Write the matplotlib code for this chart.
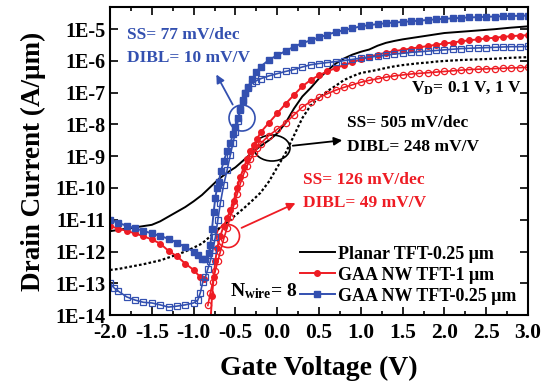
import matplotlib
matplotlib.use("Agg")
import matplotlib.pyplot as plt
from matplotlib.patches import Ellipse
from matplotlib.ticker import FixedLocator, LogLocator, NullFormatter, FuncFormatter, MultipleLocator
import numpy as np

# ---------------------------------------------------------------------------
# Data: gate voltage (V) and log10 of drain current (A/um)
# ---------------------------------------------------------------------------
# Planar TFT-0.25 um, VD = 1 V (solid) and VD = 0.1 V (dotted)
planar_v = [-2.0, -1.9, -1.8, -1.7, -1.6, -1.5, -1.4, -1.3, -1.2, -1.1, -1.0, -0.9, -0.8,
            -0.7, -0.6, -0.5, -0.4, -0.3, -0.2, -0.1, 0.0, 0.1, 0.2, 0.3, 0.4, 0.5, 0.6,
            0.7, 0.8, 0.9, 1.0, 1.1, 1.2, 1.3, 1.4, 1.5, 1.6, 1.7, 1.8, 1.9, 2.0, 2.2,
            2.4, 2.6, 2.8, 3.0]
planar_hi = [-11.36, -11.32, -11.28, -11.24, -11.20, -11.16, -11.05, -10.90, -10.75, -10.60,
             -10.42, -10.22, -9.97, -9.72, -9.52, -9.35, -9.12, -8.88, -8.68, -8.50, -8.28,
             -7.95, -7.50, -7.12, -6.85, -6.55, -6.30, -6.08, -5.92, -5.80, -5.71, -5.64,
             -5.52, -5.43, -5.37, -5.32, -5.28, -5.24, -5.20, -5.16, -5.12, -5.08, -5.04,
             -5.00, -4.95, -4.91]
planar_lo = [-12.58, -12.55, -12.50, -12.45, -12.40, -12.34, -12.28, -12.19, -12.10, -12.00,
             -11.88, -11.75, -11.52, -11.28, -11.08, -10.86, -10.64, -10.40, -10.15, -9.80,
             -9.35, -8.90, -8.35, -7.80, -7.40, -7.16, -6.95, -6.78, -6.60, -6.48, -6.38,
             -6.33, -6.28, -6.22, -6.17, -6.13, -6.10, -6.07, -6.05, -6.02, -6.00, -5.97,
             -5.95, -5.93, -5.90, -5.88]

# GAA NW TFT-1 um, VD = 1 V (filled circles); NaN marks the sign-change gap
gaa1_hi_v = [-2.0, -1.9, -1.8, -1.7, -1.6, -1.5, -1.4, -1.3, -1.2, -1.1, -1.0, -0.92, -0.88,
             -0.84, -0.80, -0.78, -0.76, -0.74, -0.72, -0.68, -0.64, -0.60, -0.56, -0.52,
             -0.48, -0.44, -0.40, -0.36, -0.32, -0.28, -0.24, -0.20, -0.1, 0.0, 0.1, 0.2,
             0.3, 0.4, 0.5, 0.6, 0.7, 0.8, 0.9, 1.0, 1.1, 1.2, 1.3, 1.4, 1.5, 1.6, 1.7,
             1.8, 1.9, 2.0, 2.1, 2.2, 2.3, 2.4, 2.5, 2.6, 2.7, 2.8, 2.9, 3.0]
gaa1_hi = [-11.20, -11.28, -11.35, -11.43, -11.52, -11.62, -11.75, -11.98, -12.15, -12.38,
           -12.58, -12.81, -12.87, np.nan, -14.3, -13.4, -12.8, -12.3, -11.9, -11.5, -11.2,
           -10.95, -10.70, -10.40, -10.00, -9.65, -9.35, -9.10, -8.85, -8.65, -8.45, -8.25,
           -7.95, -7.65, -7.35, -7.07, -6.80, -6.60, -6.45, -6.33, -6.22, -6.13, -6.04,
           -5.95, -5.87, -5.80, -5.74, -5.69, -5.65, -5.61, -5.57, -5.53, -5.49, -5.45,
           -5.42, -5.38, -5.35, -5.32, -5.29, -5.27, -5.24, -5.22, -5.20, -5.19]

# GAA NW TFT-1 um, VD = 0.1 V (open circles)
gaa1_lo_v = [-0.83, -0.80, -0.77, -0.74, -0.71, -0.68, -0.64, -0.60, -0.56, -0.52, -0.48,
             -0.44, -0.40, -0.36, -0.32, -0.28, -0.24, -0.20, -0.1, 0.0, 0.1, 0.2, 0.3,
             0.4, 0.5, 0.6, 0.7, 0.8, 0.9, 1.0, 1.1, 1.2, 1.3, 1.4, 1.5, 1.6, 1.7, 1.8,
             1.9, 2.0, 2.1, 2.2, 2.3, 2.4, 2.5, 2.6, 2.7, 2.8, 2.9, 3.0]
gaa1_lo = [-13.70, -13.30, -12.95, -12.60, -12.30, -12.00, -11.60, -11.26, -10.90, -10.55,
           -10.20, -9.85, -9.55, -9.30, -9.10, -8.90, -8.75, -8.60, -8.35, -8.15, -7.95,
           -7.70, -7.45, -7.28, -7.15, -7.03, -6.92, -6.83, -6.75, -6.67, -6.61, -6.56,
           -6.51, -6.47, -6.44, -6.41, -6.39, -6.37, -6.35, -6.33, -6.31, -6.29, -6.27,
           -6.26, -6.25, -6.24, -6.23, -6.22, -6.21, -6.20]

# GAA NW TFT-0.25 um, VD = 1 V (filled squares)
gaa025_hi_v = [-2.0, -1.9, -1.8, -1.7, -1.6, -1.5, -1.4, -1.3, -1.2, -1.1, -1.0, -0.95,
               -0.90, -0.86, -0.82, -0.80, -0.78, -0.76, -0.74, -0.72, -0.70, -0.67, -0.64,
               -0.60, -0.56, -0.53, -0.50, -0.47, -0.44, -0.41, -0.38, -0.35, -0.30, -0.25,
               -0.20, -0.1, 0.0, 0.1, 0.2, 0.3, 0.4, 0.5, 0.6, 0.7, 0.8, 0.9, 1.0, 1.1,
               1.2, 1.3, 1.4, 1.5, 1.6, 1.7, 1.8, 1.9, 2.0, 2.1, 2.2, 2.3, 2.4, 2.5, 2.6,
               2.7, 2.8, 2.9, 3.0]
gaa025_hi = [-11.01, -11.10, -11.19, -11.27, -11.35, -11.43, -11.51, -11.60, -11.72, -11.86,
             -12.00, -12.12, -12.24, -12.24, -12.05, -11.80, -11.30, -10.75, -10.30, -10.00,
             -9.80, -9.45, -9.15, -8.85, -8.59, -8.30, -8.09, -7.80, -7.50, -7.24, -7.02,
             -6.83, -6.56, -6.35, -6.18, -5.97, -5.82, -5.69, -5.55, -5.44, -5.35, -5.26,
             -5.17, -5.09, -5.03, -4.97, -4.91, -4.87, -4.84, -4.81, -4.79, -4.77, -4.75,
             -4.73, -4.71, -4.69, -4.67, -4.66, -4.64, -4.63, -4.62, -4.61, -4.60, -4.59,
             -4.58, -4.58, -4.57]

# GAA NW TFT-0.25 um, VD = 0.1 V (open squares)
gaa025_lo_v = [-2.0, -1.95, -1.9, -1.8, -1.7, -1.6, -1.5, -1.4, -1.3, -1.2, -1.1, -1.0,
               -0.95, -0.92, -0.89, -0.86, -0.83, -0.80, -0.77, -0.74, -0.71, -0.68, -0.64,
               -0.60, -0.56, -0.53, -0.50, -0.47, -0.44, -0.41, -0.38, -0.35, -0.30, -0.25,
               -0.20, -0.1, 0.0, 0.1, 0.2, 0.3, 0.4, 0.5, 0.6, 0.7, 0.8, 0.9, 1.0, 1.1,
               1.2, 1.3, 1.4, 1.5, 1.6, 1.7, 1.8, 1.9, 2.0, 2.1, 2.2, 2.3, 2.4, 2.5, 2.6,
               2.7, 2.8, 2.9, 3.0]
gaa025_lo = [-12.99, -13.15, -13.25, -13.43, -13.53, -13.60, -13.62, -13.68, -13.75, -13.72,
             -13.68, -13.62, -13.53, -13.30, -12.95, -12.81, -12.55, -12.30, -11.95, -11.55,
             -11.00, -10.47, -9.90, -9.44, -8.95, -8.59, -8.25, -7.90, -7.55, -7.25, -7.00,
             -6.85, -6.70, -6.62, -6.56, -6.47, -6.40, -6.33, -6.27, -6.19, -6.12, -6.08,
             -6.05, -6.02, -5.99, -5.95, -5.91, -5.88, -5.85, -5.82, -5.78, -5.76, -5.73,
             -5.71, -5.69, -5.67, -5.65, -5.63, -5.61, -5.60, -5.59, -5.58, -5.57, -5.56,
             -5.55, -5.55, -5.54]

# ---------------------------------------------------------------------------
# Figure
# ---------------------------------------------------------------------------
plt.rcParams.update({
    "font.family": "Liberation Serif",
    "font.weight": "bold",
    "mathtext.fontset": "custom",
    "mathtext.rm": "Liberation Serif:bold",
    "mathtext.bf": "Liberation Serif:bold",
    "mathtext.it": "Liberation Serif:bold",
})

C_BLUE = "#3350b0"
C_RED = "#ee1c24"

fig = plt.figure(figsize=(5.54, 3.83), dpi=100)
ax = fig.add_axes([0.1986, 0.1775, 0.7545, 0.8042])

ax.plot(planar_v, 10 ** np.array(planar_hi), "-", color="black", lw=1.4,
        label="Planar TFT-0.25 \u03bcm")
ax.plot(planar_v, 10 ** np.array(planar_lo), color="black", lw=1.6,
        linestyle=(0, (1.2, 1.0)), label="_nolegend_")
ax.plot(gaa1_hi_v, 10 ** np.array(gaa1_hi), "o-", color=C_RED, lw=1.4, ms=4,
        label="GAA NW TFT-1 \u03bcm")
ax.plot(gaa1_lo_v, 10 ** np.array(gaa1_lo), "o-", color=C_RED, lw=1.2, ms=4.5,
        mfc="none", mew=0.9, label="_nolegend_")
ax.plot(gaa025_hi_v, 10 ** np.array(gaa025_hi), "s-", color=C_BLUE, lw=1.4, ms=4,
        label="GAA NW TFT-0.25 \u03bcm")
ax.plot(gaa025_lo_v, 10 ** np.array(gaa025_lo), "s-", color=C_BLUE, lw=1.2, ms=4.5,
        mfc="none", mew=0.9, label="_nolegend_")

ax.set_yscale("log")
ax.set_xlim(-2.0, 3.0)
ax.set_ylim(1e-14, 5e-5)
ax.xaxis.set_major_locator(MultipleLocator(0.5))
ax.xaxis.set_minor_locator(MultipleLocator(0.25))
ax.xaxis.set_major_formatter(FuncFormatter(lambda v, _: f"{v:.1f}"))
ax.yaxis.set_major_locator(FixedLocator([10.0 ** e for e in range(-14, -4)]))
ax.yaxis.set_minor_locator(LogLocator(base=10, subs=np.arange(2, 10)))
ax.yaxis.set_minor_formatter(NullFormatter())
ax.yaxis.set_major_formatter(FuncFormatter(lambda v, _: f"1E{int(round(np.log10(v)))}"))
ax.tick_params(which="both", direction="in", top=True, right=True, width=1.2)
ax.tick_params(which="major", length=6)
ax.tick_params(which="minor", length=3)
ax.tick_params(axis="x", labelsize=15.5, pad=6)
ax.tick_params(axis="y", labelsize=14.5, pad=3)
for s in ax.spines.values():
    s.set_linewidth(1.5)

ax.set_xlabel("Gate Voltage (V)", fontsize=20, fontweight="bold", labelpad=9)
ax.set_ylabel("Drain Current (A/\u03bcm)", fontsize=19.5, fontweight="bold", labelpad=7)

ax.legend(loc="upper left", bbox_to_anchor=(0.455, 0.225), frameon=False,
          fontsize=13, handlelength=1.9, handletextpad=0.2, labelspacing=0.22,
          borderaxespad=0, borderpad=0)


# helper: picture pixel -> axes fraction (for annotations only)
def px(x, y):
    return ((x - 110) / 418, (315 - y) / 308)


tf = dict(fontsize=12.5, fontweight="bold")
ax.text(*px(127, 35), "SS= 77 mV/dec", color=C_BLUE, transform=ax.transAxes, va="center", **tf)
ax.text(*px(127, 58), "DIBL= 10 mV/V", color=C_BLUE, transform=ax.transAxes, va="center", **tf)
ax.text(*px(522, 88), "V$_\\mathrm{D}$= 0.1 V, 1 V", color="black", transform=ax.transAxes,
        va="center", ha="right", **tf)
ax.text(*px(347, 123), "SS= 505 mV/dec", color="black", transform=ax.transAxes, va="center", **tf)
ax.text(*px(347, 147), "DIBL= 248 mV/V", color="black", transform=ax.transAxes, va="center", **tf)
ax.text(*px(303, 180), "SS= 126 mV/dec", color=C_RED, transform=ax.transAxes, va="center", **tf)
ax.text(*px(303, 203), "DIBL= 49 mV/V", color=C_RED, transform=ax.transAxes, va="center", **tf)
ax.text(*px(230, 291), "N$_\\mathrm{wire}$= 8", color="black", transform=ax.transAxes,
        va="center", fontsize=14, fontweight="bold")

# circles / ellipse highlighting the subthreshold regions
ax.add_patch(Ellipse(px(242, 118), 26 / 418, 26 / 308, transform=ax.transAxes,
                     fill=False, ec=C_BLUE, lw=1.2))
ax.add_patch(Ellipse(px(228, 236), 23 / 418, 23 / 308, transform=ax.transAxes,
                     fill=False, ec=C_RED, lw=1.2))
ax.add_patch(Ellipse(px(272, 148), 36 / 418, 26 / 308, transform=ax.transAxes,
                     fill=False, ec="black", lw=1.2))

arrow = dict(arrowstyle="-|>", lw=1.3, mutation_scale=12)
ax.annotate("", xy=px(215, 72), xytext=px(234, 107), xycoords="axes fraction",
            arrowprops=dict(color=C_BLUE, **arrow))
ax.annotate("", xy=px(345, 140), xytext=px(290, 146), xycoords="axes fraction",
            arrowprops=dict(color="black", **arrow))
ax.annotate("", xy=px(298, 202), xytext=px(239, 229), xycoords="axes fraction",
            arrowprops=dict(color=C_RED, **arrow))

fig.savefig("out.png", dpi=100)
plt.close(fig)
